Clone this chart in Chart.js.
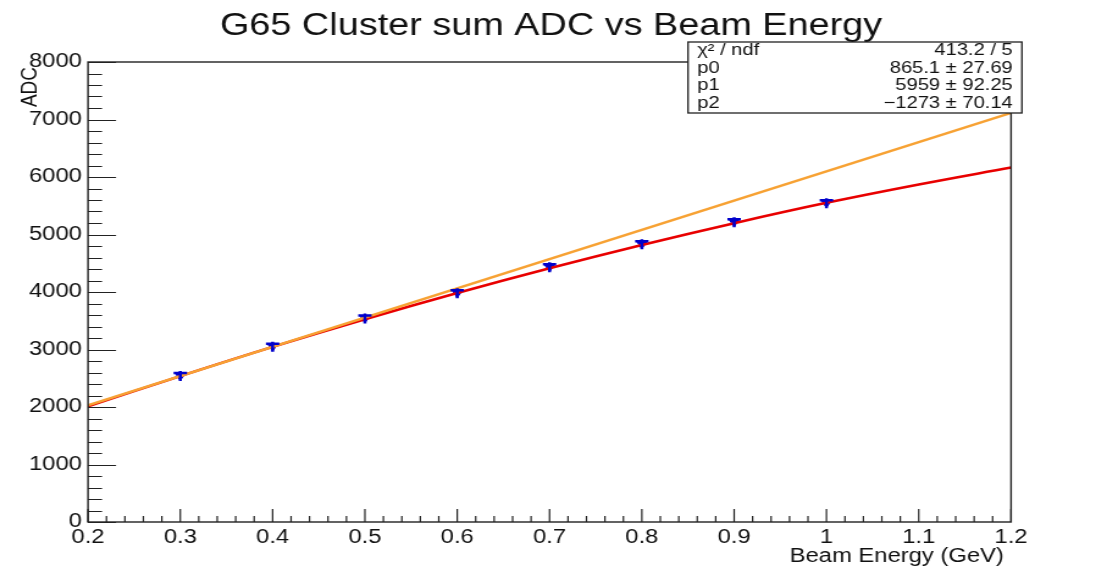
<!DOCTYPE html>
<html lang="en">
  <head>
    <meta charset="UTF-8" />
    <title>G65 Cluster sum ADC vs Beam Energy</title>
    <script src="https://cdn.jsdelivr.net/npm/chart.js"></script>
    <style>
      body {
        margin: 0;
        background: #ffffff;
        overflow: hidden;
      }
      /* the reference picture is stretched sideways, so the canvas is too */
      #adcChart {
        transform: scaleX(1.2205);
        transform-origin: 0 0;
      }
    </style>
  </head>
  <body>
    <canvas id="adcChart" width="907" height="566"></canvas>

    <script>
      // measured points
      const energy = [0.3, 0.4, 0.5, 0.6, 0.7, 0.8, 0.9, 1.0];
      const adc = [2540, 3050, 3540, 3980, 4430, 4830, 5215, 5545];

      // red fit curve (pol2)
      const fitX = [0.2, 0.3, 0.4, 0.5, 0.6, 0.7, 0.8, 0.9, 1.0, 1.1, 1.2];
      const fitY = [2010, 2538, 3046, 3527, 3983, 4413, 4818, 5197, 5551, 5870, 6165];

      // orange straight line
      const lineX = [0.2, 1.2];
      const lineY = [2030, 7115];

      const statLabels = ["\u03C7\u00B2 / ndf", "p0", "p1", "p2"];
      const statValues = ["413.2 / 5", "865.1 \u00B1 27.69", "5959 \u00B1 92.25", "\u22121273 \u00B1 70.14"];

      const toXY = (xs, ys) => xs.map((x, i) => ({ x: x, y: ys[i] }));
      const FONT = "'Liberation Sans', Arial, sans-serif";

      // ROOT style: inward ticks, frame, title, stats box, axis titles
      const rootDecor = {
        id: "rootDecor",
        afterDraw(chart) {
          const ctx = chart.ctx;
          const a = chart.chartArea;
          const xs = chart.scales.x;
          const ys = chart.scales.y;
          ctx.save();
          ctx.strokeStyle = "#222";
          ctx.lineWidth = 1.4;
          ctx.strokeRect(a.left, a.top, a.right - a.left, a.bottom - a.top);

          ctx.lineWidth = 1.2;
          ctx.beginPath();
          for (let i = 0; i <= 50; i++) {
            const v = 0.2 + i * 0.02;
            const px = xs.getPixelForValue(v);
            const len = i % 5 === 0 ? 13 : 6;
            ctx.moveTo(px, a.bottom);
            ctx.lineTo(px, a.bottom - len);
          }
          for (let i = 0; i <= 40; i++) {
            const py = Math.round(ys.getPixelForValue(i * 200)) + 0.5;
            const len = i % 5 === 0 ? 23 : 11.5;
            ctx.moveTo(a.left, py);
            ctx.lineTo(a.left + len, py);
          }
          ctx.stroke();

          // title
          ctx.fillStyle = "#111";
          ctx.font = "31px " + FONT;
          ctx.textAlign = "center";
          ctx.textBaseline = "alphabetic";
          ctx.fillText("G65 Cluster sum ADC vs Beam Energy", 451.5, 35);

          // axis titles
          ctx.font = "19.5px " + FONT;
          ctx.textAlign = "right";
          ctx.fillText("Beam Energy (GeV)", 822.5, 562);
          ctx.save();
          ctx.translate(29.5, 67);
          ctx.rotate(-Math.PI / 2);
          ctx.font = "19px " + FONT;
          ctx.fillText("ADC", 0, 0);
          ctx.restore();

          // stats box
          const bx = 563.7, by = 42, bw = 273.6, bh = 71;
          ctx.fillStyle = "#fff";
          ctx.fillRect(bx, by, bw, bh);
          ctx.strokeStyle = "#222";
          ctx.lineWidth = 1.3;
          ctx.strokeRect(bx, by, bw, bh);
          ctx.fillStyle = "#111";
          ctx.font = "16.5px " + FONT;
          ctx.textBaseline = "middle";
          statLabels.forEach((t, i) => {
            const ty = by + 8.5 + i * 17.5;
            ctx.textAlign = "left";
            ctx.fillText(t, bx + 7.5, ty);
            ctx.textAlign = "right";
            ctx.fillText(statValues[i], bx + bw - 7.5, ty);
          });
          ctx.restore();
        },
      };

      // small error bars around the markers
      const errorBars = {
        id: "errorBars",
        afterDatasetsDraw(chart) {
          const ctx = chart.ctx;
          const meta = chart.getDatasetMeta(2);
          ctx.save();
          ctx.strokeStyle = "#0000cc";
          ctx.lineWidth = 2.5;
          meta.data.forEach((pt) => {
            ctx.beginPath();
            ctx.moveTo(pt.x - 5.5, pt.y - 3);
            ctx.lineTo(pt.x + 5.5, pt.y - 3);
            ctx.moveTo(pt.x, pt.y - 5);
            ctx.lineTo(pt.x, pt.y + 5);
            ctx.stroke();
          });
          ctx.restore();
        },
      };

      new Chart(document.getElementById("adcChart").getContext("2d"), {
        type: "scatter",
        data: {
          datasets: [
            {
              label: "line",
              data: toXY(lineX, lineY),
              showLine: true,
              borderColor: "#f7a234",
              borderWidth: 2.5,
              pointRadius: 0,
            },
            {
              label: "fit",
              data: toXY(fitX, fitY),
              showLine: true,
              borderColor: "#e80000",
              borderWidth: 2.5,
              pointRadius: 0,
              tension: 0.4,
            },
            {
              label: "data",
              data: toXY(energy, adc),
              backgroundColor: "#0000cc",
              borderColor: "#0000cc",
              pointStyle: "triangle",
              rotation: 180,
              pointRadius: 4.5,
            },
          ],
        },
        options: {
          responsive: false,
          animation: false,
          layout: { padding: { top: 62, right: 78.6, left: 0, bottom: 0 } },
          plugins: {
            legend: { display: false },
            tooltip: { enabled: false },
          },
          scales: {
            x: {
              type: "linear",
              min: 0.2,
              max: 1.2,
              afterFit: (s) => { s.height = 44; },
              grid: { display: false, drawTicks: false, tickLength: 0 },
              border: { display: false },
              ticks: {
                stepSize: 0.1,
                padding: 4,
                maxRotation: 0,
                autoSkip: false,
                color: "#111",
                font: { family: FONT, size: 19.5 },
                callback: (v) => String(Math.round(v * 10) / 10),
              },
            },
            y: {
              min: 0,
              max: 8000,
              afterFit: (s) => { s.width = 72.1; },
              grid: { display: false, drawTicks: false, tickLength: 0 },
              border: { display: false },
              ticks: {
                stepSize: 1000,
                padding: 5,
                color: "#111",
                font: { family: FONT, size: 19.5 },
                callback: (v) => String(v),
              },
            },
          },
        },
        plugins: [rootDecor, errorBars],
      });
    </script>
  </body>
</html>
